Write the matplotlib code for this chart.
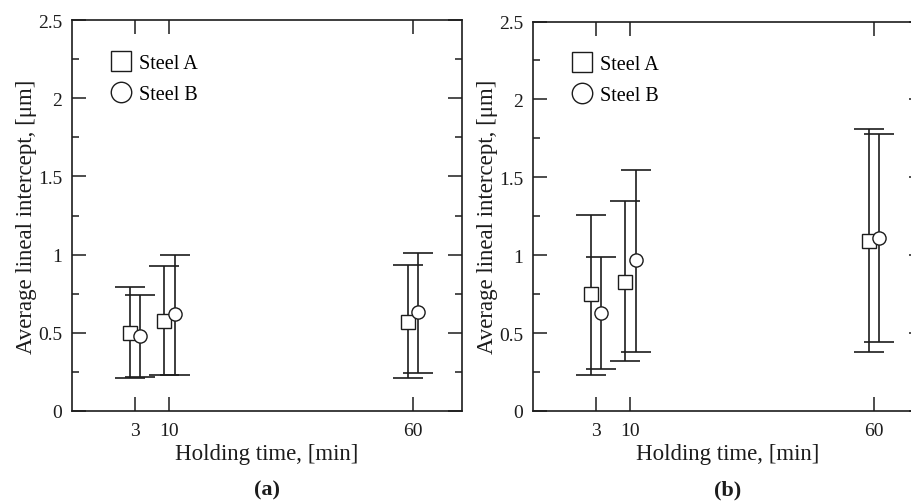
import matplotlib
matplotlib.use("Agg")
import matplotlib.pyplot as plt
from matplotlib.ticker import MultipleLocator, FixedLocator

plt.rcParams['font.family'] = ['Liberation Serif', 'DejaVu Serif']

# Holding times and measured intercepts (mean, upper and lower bar ends)
times = [3, 10, 60]

a_steelA_mean = [0.50, 0.575, 0.57]
a_steelA_high = [0.79, 0.93, 0.935]
a_steelA_low = [0.21, 0.23, 0.21]
a_steelB_mean = [0.48, 0.62, 0.63]
a_steelB_high = [0.74, 1.00, 1.01]
a_steelB_low = [0.22, 0.23, 0.24]

b_steelA_mean = [0.75, 0.83, 1.09]
b_steelA_high = [1.26, 1.35, 1.81]
b_steelA_low = [0.23, 0.32, 0.38]
b_steelB_mean = [0.63, 0.97, 1.11]
b_steelB_high = [0.99, 1.55, 1.78]
b_steelB_low = [0.27, 0.38, 0.44]

series_labels = ['Steel A', 'Steel B']
panel_tags = ['(a)', '(b)']
time_ticks = [3, 10, 60]
y_ticks = [0, 0.5, 1, 1.5, 2, 2.5]
y_tick_labels = ['0', '0.5', '1', '1.5', '2', '2.5']

INK = '#1c1c1c'
W, H = 912, 502
fig = plt.figure(figsize=(W / 100, H / 100), dpi=100)

boxes = [
    (72 / W, 1 - 412 / H, 390 / W, 391 / H),
    (533 / W, 1 - 412 / H, 390 / W, 389.5 / H),
]

panels = [
    (a_steelA_mean, a_steelA_high, a_steelA_low, a_steelB_mean, a_steelB_high, a_steelB_low),
    (b_steelA_mean, b_steelA_high, b_steelA_low, b_steelB_mean, b_steelB_high, b_steelB_low),
]

shift = 1.05  # horizontal separation of the two steels around each time


def draw_bars(ax, xs, mean, high, low):
    err = [[m - l for m, l in zip(mean, low)], [h - m for m, h in zip(mean, high)]]
    ax.errorbar(xs, mean, yerr=err, fmt='none', ecolor=INK, elinewidth=1.2,
                capsize=10.5, capthick=1.2, zorder=2)


for i, (box, data) in enumerate(zip(boxes, panels)):
    ax = fig.add_axes(box)
    am, ah, al, bm, bh, bl = data
    xa = [t - shift for t in times]
    xb = [t + shift for t in times]
    draw_bars(ax, xa, am, ah, al)
    draw_bars(ax, xb, bm, bh, bl)
    ax.plot(xa, am, ls='none', marker='s', ms=9.5, mfc='white', mec=INK, mew=1.0,
            label=series_labels[0], zorder=3)
    ax.plot(xb, bm, ls='none', marker='o', ms=9.5, mfc='white', mec=INK, mew=1.0,
            label=series_labels[1], zorder=3)

    ax.set_xlim(-10, 70)
    ax.set_ylim(0, 2.5)
    ax.xaxis.set_major_locator(FixedLocator(time_ticks))
    ax.yaxis.set_minor_locator(MultipleLocator(0.25))
    ax.set_yticks(y_ticks)
    ax.set_yticklabels(y_tick_labels)
    ax.tick_params(axis='both', which='major', direction='in', length=10, width=1.1,
                   top=True, right=True, labelsize=14, colors=INK, pad=7)
    ax.tick_params(axis='x', which='major', pad=8)
    ax.tick_params(axis='y', which='minor', direction='in', length=5, width=1.1,
                   left=True, right=True, colors=INK)
    for sp in ax.spines.values():
        sp.set_linewidth(1.2)
        sp.set_color(INK)

    ax.set_xlabel('Holding time, [min]', fontsize=16.5, color=INK, labelpad=3)
    ax.set_ylabel('Average lineal intercept, [μm]', fontsize=16.5, color=INK, labelpad=1)

    ax.legend(loc='upper left', bbox_to_anchor=(0.08, 0.935), frameon=False,
              fontsize=14.5, markerscale=1.55, handlelength=1.0,
              handletextpad=0.4, labelspacing=0.6, borderaxespad=0)

    fig.text(box[0] + box[2] / 2, 1 - 490 / H, panel_tags[i], ha='center', va='center',
             fontsize=16, fontweight='bold', color=INK)

fig.savefig('out.png', dpi=100)
